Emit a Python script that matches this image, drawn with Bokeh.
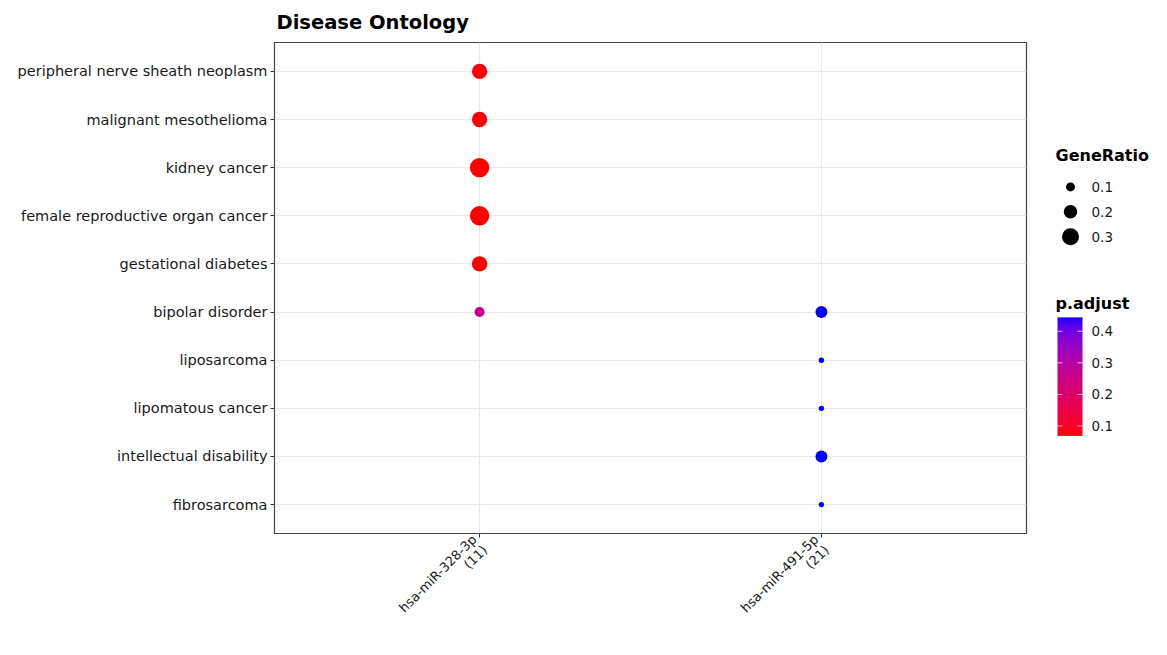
import numpy as np
from bokeh.plotting import figure
from bokeh.layouts import row
from bokeh.models import Range1d, FixedTicker, ColumnDataSource, LinearColorMapper
from bokeh.transform import transform
from bokeh.core.properties import value
from bokeh.embed import file_html
from bokeh.resources import INLINE

# ---------------- data ----------------
terms = ["peripheral nerve sheath neoplasm", "malignant mesothelioma", "kidney cancer",
         "female reproductive organ cancer", "gestational diabetes", "bipolar disorder",
         "liposarcoma", "lipomatous cancer", "intellectual disability", "fibrosarcoma"]
clusters = ["hsa-miR-328-3p", "hsa-miR-491-5p"]
cluster_counts = [11, 21]

c1_terms = ["peripheral nerve sheath neoplasm", "malignant mesothelioma", "kidney cancer",
            "female reproductive organ cancer", "gestational diabetes", "bipolar disorder"]
c1_ratio = [0.25, 0.25, 0.38, 0.38, 0.25, 0.12]
c1_padj = [0.0685, 0.0685, 0.0685, 0.0685, 0.0685, 0.27]

c2_terms = ["bipolar disorder", "liposarcoma", "lipomatous cancer", "intellectual disability", "fibrosarcoma"]
c2_ratio = [0.16, 0.045, 0.045, 0.16, 0.045]
c2_padj = [0.444, 0.444, 0.444, 0.444, 0.444]

size_breaks = [0.1, 0.2, 0.3]
padj_breaks = [0.1, 0.2, 0.3, 0.4]
padj_low, padj_high = 0.0685, 0.444

FONT = "DejaVu Sans"
TXT = "#1a1a1a"

# ---------------- colour scale (Lab interpolation red -> blue) ----------------
def _srgb_to_lab(rgb):
    c = np.array(rgb, dtype=float) / 255.0
    lin = np.where(c <= 0.04045, c / 12.92, ((c + 0.055) / 1.055) ** 2.4)
    M = np.array([[0.4124, 0.3576, 0.1805], [0.2126, 0.7152, 0.0722], [0.0193, 0.1192, 0.9505]])
    xyz = M @ lin / np.array([0.95047, 1.0, 1.08883])
    d = 6 / 29
    f = np.where(xyz > d ** 3, np.cbrt(xyz), xyz / (3 * d * d) + 4 / 29)
    return np.array([116 * f[1] - 16, 500 * (f[0] - f[1]), 200 * (f[1] - f[2])])

def _lab_to_hex(lab):
    L, a, b = lab
    fy = (L + 16) / 116
    fx = fy + a / 500
    fz = fy - b / 200
    d = 6 / 29
    f = np.array([fx, fy, fz])
    xyz = np.where(f > d, f ** 3, 3 * d * d * (f - 4 / 29)) * np.array([0.95047, 1.0, 1.08883])
    Mi = np.array([[3.2406, -1.5372, -0.4986], [-0.9689, 1.8758, 0.0415], [0.0557, -0.2040, 1.0570]])
    lin = np.clip(Mi @ xyz, 0, 1)
    c = np.where(lin <= 0.0031308, 12.92 * lin, 1.055 * lin ** (1 / 2.4) - 0.055)
    c = np.clip(np.round(c * 255), 0, 255).astype(int)
    return "#%02x%02x%02x" % tuple(c)

lab_r = _srgb_to_lab((255, 0, 0))
lab_b = _srgb_to_lab((0, 0, 255))
palette = [_lab_to_hex(lab_r + (lab_b - lab_r) * t) for t in np.linspace(0, 1, 256)]
mapper = LinearColorMapper(palette=palette, low=padj_low, high=padj_high)

def dot_size(r):
    return 34.5 * np.sqrt(np.asarray(r, dtype=float)) - 1.9

# ---------------- main figure ----------------
W, H = 1036, 639
FRAME_TOP, FRAME_BOT = 42, 535   # expected page rows of the plotting frame
n = len(terms)
ypos = {t: n - i for i, t in enumerate(terms)}

p = figure(width=W, height=H, x_range=Range1d(0.4, 2.6), y_range=Range1d(0.4, n + 0.6),
           output_backend="svg", toolbar_location=None, title="Disease Ontology",
           min_border_left=274, min_border_right=10, min_border_top=FRAME_TOP,
           min_border_bottom=H - FRAME_BOT)

src = ColumnDataSource(dict(
    x=[1] * len(c1_terms) + [2] * len(c2_terms),
    y=[ypos[t] for t in c1_terms] + [ypos[t] for t in c2_terms],
    ratio=c1_ratio + c2_ratio,
    padj=c1_padj + c2_padj,
    size=list(dot_size(c1_ratio + c2_ratio)),
))
p.scatter("x", "y", size="size", source=src, fill_color=transform("padj", mapper), line_color=None)

p.title.text_font = FONT
p.title.text_font_size = "19.5px"
p.title.text_font_style = "bold"
p.title.text_color = "black"
p.title.offset = 2
p.title.standoff = 17

p.xaxis.ticker = FixedTicker(ticks=[1, 2])
p.xaxis.major_label_overrides = {i + 1: f"{c}\n({k})" for i, (c, k) in enumerate(zip(clusters, cluster_counts))}
p.xaxis.major_label_orientation = np.pi / 4
p.yaxis.ticker = FixedTicker(ticks=list(range(1, n + 1)))
p.yaxis.major_label_overrides = {ypos[t]: t for t in terms}

for ax in (p.xaxis, p.yaxis):
    ax.axis_line_color = None
    ax.major_tick_line_color = "#333333"
    ax.major_tick_out = 4
    ax.major_tick_in = 0
    ax.minor_tick_line_color = None
    ax.major_label_text_font = FONT
    ax.major_label_text_color = TXT
    ax.major_label_standoff = 3
p.yaxis.major_label_text_font_size = "14.5px"
p.xaxis.major_label_text_font_size = "13px"
p.xaxis.major_label_text_line_height = 1.0
p.xaxis.major_label_standoff = 5

p.xgrid.ticker = FixedTicker(ticks=[1, 2])
p.ygrid.ticker = FixedTicker(ticks=list(range(1, n + 1)))
p.grid.grid_line_color = "#e8e8e8"
p.grid.grid_line_width = 1.2
p.outline_line_color = "#444444"
p.outline_line_width = 1.2
p.background_fill_color = "white"
p.border_fill_color = "white"

# ---------------- legend panel (frame shares the main frame's rows) ----------------
LW = 1151 - W
X0 = W  # panel left edge in page pixels
q = figure(width=LW, height=H, x_range=Range1d(0, LW), y_range=Range1d(FRAME_BOT, FRAME_TOP),
           output_backend="svg", toolbar_location=None,
           x_axis_location=None, y_axis_location=None, min_border=0,
           min_border_top=FRAME_TOP, min_border_bottom=H - FRAME_BOT)
q.outline_line_color = None
q.grid.visible = False

def sx(px):
    return px - X0

# size legend
q.text(x=[sx(1055)], y=[155], text=["GeneRatio"], text_font=value(FONT), text_font_size="16px",
       text_font_style="bold", text_color="black", text_baseline="middle", text_align="left")
leg_y = [187, 212, 237]
q.scatter(x=[sx(1070)] * len(size_breaks), y=leg_y, size=list(dot_size(size_breaks)),
          fill_color="black", line_color=None)
q.text(x=[sx(1091)] * len(size_breaks), y=leg_y, text=[f"{b:.1f}" for b in size_breaks],
       text_font=value(FONT), text_font_size="13.5px", text_color=TXT,
       text_baseline="middle", text_align="left")

# colour bar
q.text(x=[sx(1055)], y=[304], text=["p.adjust"], text_font=value(FONT), text_font_size="16px",
       text_font_style="bold", text_color="black", text_baseline="middle", text_align="left")
cb_top, cb_bot, cb_l, cb_r = 318, 437, 1057, 1082
grad = np.tile(np.linspace(padj_high, padj_low, 240)[:, None], (1, 2))
q.image(image=[grad], x=sx(cb_l), y=cb_top, dw=cb_r - cb_l, dh=cb_bot - cb_top, color_mapper=mapper)

def vy(v):
    return cb_top + (padj_high - v) / (padj_high - padj_low) * (cb_bot - cb_top)

tick_y = [vy(v) for v in padj_breaks]
q.segment(x0=[sx(cb_l)] * 4, x1=[sx(cb_l) + 5] * 4, y0=tick_y, y1=tick_y,
          line_color="white", line_width=1, line_alpha=0.7)
q.segment(x0=[sx(cb_r) - 5] * 4, x1=[sx(cb_r)] * 4, y0=tick_y, y1=tick_y,
          line_color="white", line_width=1, line_alpha=0.7)
q.text(x=[sx(1091)] * 4, y=tick_y, text=[f"{v:.1f}" for v in padj_breaks], text_font=value(FONT),
       text_font_size="13.5px", text_color=TXT, text_baseline="middle", text_align="left")

layout = row(p, q)
open("out.html", "w").write(file_html(layout, INLINE))
